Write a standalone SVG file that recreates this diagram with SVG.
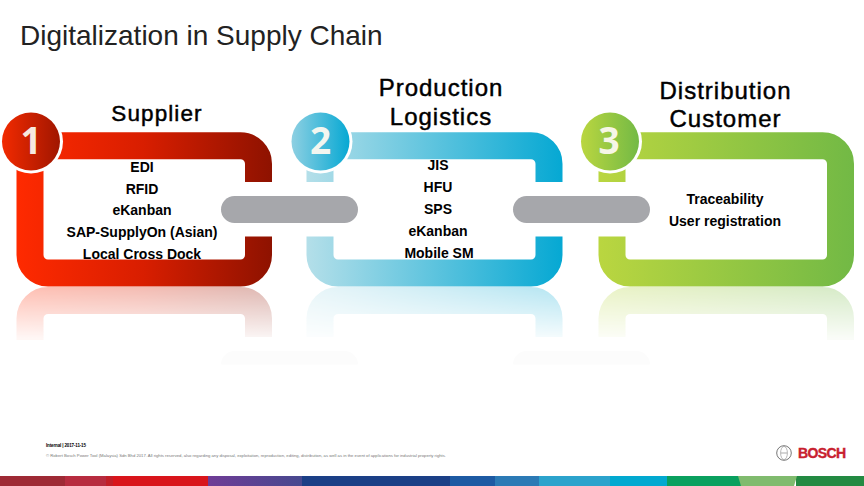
<svg xmlns="http://www.w3.org/2000/svg" width="864" height="486" viewBox="0 0 864 486">
<style>
text{font-family:"Liberation Sans",Arial,sans-serif;fill:#000}
.h{font-size:24px;text-anchor:middle;stroke:#000;stroke-width:.45;letter-spacing:1px}
.s{font-size:14px;font-weight:700;text-anchor:middle}
.n{font-family:"Open Sans","Liberation Sans",sans-serif;font-size:37px;font-weight:700;text-anchor:middle}
.f{fill:none;stroke-width:27}
.p{fill:#a6a7ab}
</style>
<defs>
<linearGradient id="r" gradientUnits="userSpaceOnUse" x1="16" x2="272" y1="0" y2="0"><stop offset="0" stop-color="#ff2a00"/><stop offset=".5" stop-color="#d81e00"/><stop offset="1" stop-color="#8e1200"/></linearGradient>
<linearGradient id="b" gradientUnits="userSpaceOnUse" x1="307" x2="563" y1="0" y2="0"><stop offset="0" stop-color="#b4dfe9"/><stop offset="1" stop-color="#05a8d3"/></linearGradient>
<linearGradient id="g" gradientUnits="userSpaceOnUse" x1="598" x2="854" y1="0" y2="0"><stop offset="0" stop-color="#bad640"/><stop offset="1" stop-color="#72b945"/></linearGradient>
<linearGradient id="rc" gradientUnits="userSpaceOnUse" x1="2" x2="60" y1="0" y2="0"><stop offset="0" stop-color="#f22a00"/><stop offset="1" stop-color="#a01600"/></linearGradient>
<linearGradient id="bc" gradientUnits="userSpaceOnUse" x1="291" x2="350" y1="0" y2="0"><stop offset="0" stop-color="#8fd0e2"/><stop offset="1" stop-color="#05a8d3"/></linearGradient>
<linearGradient id="gc" gradientUnits="userSpaceOnUse" x1="581" x2="640" y1="0" y2="0"><stop offset="0" stop-color="#bad640"/><stop offset="1" stop-color="#72b945"/></linearGradient>
<linearGradient id="pur" x1="0" x2="1" y1="0" y2="0"><stop offset="0" stop-color="#6f3c96"/><stop offset="1" stop-color="#47498f"/></linearGradient>
<linearGradient id="fade" gradientUnits="userSpaceOnUse" x1="0" x2="0" y1="287" y2="338"><stop offset="0" stop-color="#fff" stop-opacity=".3"/><stop offset="1" stop-color="#fff" stop-opacity=".04"/></linearGradient>
<mask id="m" maskUnits="userSpaceOnUse" x="0" y="285" width="864" height="55"><rect x="0" y="285" width="864" height="55" fill="url(#fade)"/></mask>
<path id="fr" class="f" d="M258.5 182V163.75A18 18 0 0 0 240.5 145.75H48A18 18 0 0 0 30 163.75V255A18 18 0 0 0 48 273H240.5A18 18 0 0 0 258.5 255V236.5"/>
<path id="fb" class="f" d="M320 182V163.75A18 18 0 0 1 338 145.75H531A18 18 0 0 1 549 163.75V182M320 236.5V255A18 18 0 0 0 338 273H531A18 18 0 0 0 549 255V236.5"/>
<path id="fg" class="f" d="M612 182V163.75A18 18 0 0 1 630 145.75H822.5A18 18 0 0 1 840.5 163.75V255A18 18 0 0 1 822.5 273H630A18 18 0 0 1 612 255V236.5"/>
</defs>
<rect width="864" height="486" fill="#fff"/>
<text x="20" y="45" font-size="28" style="fill:#222">Digitalization in Supply Chain</text>

<g id="reflections" mask="url(#m)">
<g transform="translate(0,573.5) scale(1,-1)">
<use href="#fr" stroke="url(#r)"/><use href="#fb" stroke="url(#b)"/><use href="#fg" stroke="url(#g)"/>
</g>
</g>
<g id="pill-reflections" opacity=".04">
<path class="p" d="M221 364.5a13.5 13.5 0 0 1 13.5-13.5H344.5a13.5 13.5 0 0 1 13.5 13.5Z"/>
<path class="p" d="M513 364.5a13.5 13.5 0 0 1 13.5-13.5H636.5a13.5 13.5 0 0 1 13.5 13.5Z"/>
</g>

<g id="supplier">
<use href="#fr" stroke="url(#r)"/>
<circle cx="31" cy="141.5" r="32" fill="#fff"/>
<circle cx="31" cy="141.5" r="29" fill="url(#rc)"/>
<text class="n" x="31" y="154" style="fill:#f6e9df">1</text>
<text class="h" x="157" y="121" style="font-size:22.5px;letter-spacing:1.1px">Supplier</text>
<text class="s" x="142" y="172">EDI</text>
<text class="s" x="142" y="194">RFID</text>
<text class="s" x="142" y="215">eKanban</text>
<text class="s" x="142" y="237">SAP-SupplyOn (Asian)</text>
<text class="s" x="142" y="259">Local Cross Dock</text>
</g>

<g id="production-logistics">
<use href="#fb" stroke="url(#b)"/>
<circle cx="320.5" cy="141.5" r="32" fill="#fff"/>
<circle cx="320.5" cy="141.5" r="29" fill="url(#bc)"/>
<text class="n" x="320.5" y="154" style="fill:#f2f6f0">2</text>
<text class="h" x="441" y="96">Production</text>
<text class="h" x="441" y="125">Logistics</text>
<text class="s" x="438" y="170">JIS</text>
<text class="s" x="438" y="192">HFU</text>
<text class="s" x="438" y="214">SPS</text>
<text class="s" x="438" y="236">eKanban</text>
<text class="s" x="439" y="258">Mobile SM</text>
</g>

<g id="distribution-customer">
<use href="#fg" stroke="url(#g)"/>
<circle cx="610" cy="141.5" r="32" fill="#fff"/>
<circle cx="610" cy="141.5" r="29" fill="url(#gc)"/>
<text class="n" x="609" y="154" style="fill:#f6f6e6">3</text>
<text class="h" x="725.5" y="99">Distribution</text>
<text class="h" x="725.5" y="127">Customer</text>
<text class="s" x="725" y="204">Traceability</text>
<text class="s" x="725" y="226">User registration</text>
</g>

<g id="connectors">
<rect class="p" x="221" y="196" width="137" height="27" rx="13.5"/>
<rect class="p" x="513" y="196" width="137" height="27" rx="13.5"/>
</g>

<g id="footer">
<text x="46" y="447" font-size="4.5" font-weight="700" textLength="40">Internal | 2017-11-15</text>
<text x="46" y="457" font-size="4.4" style="fill:#777" textLength="400" lengthAdjust="spacingAndGlyphs">© Robert Bosch Power Tool (Malaysia) Sdn Bhd 2017. All rights reserved, also regarding any disposal, exploitation, reproduction, editing, distribution, as well as in the event of applications for industrial property rights.</text>
</g>

<g id="bosch-logo">
<circle cx="784" cy="453" r="7.3" fill="none" stroke="#777" stroke-width="1"/>
<ellipse cx="784" cy="453" rx="3.4" ry="6.6" fill="none" stroke="#999" stroke-width=".7"/>
<path d="M781 453H787" stroke="#888" stroke-width=".7"/>
<text x="798" y="458" font-size="14" font-weight="700" style="fill:#c8202e;stroke:#c8202e;stroke-width:.4" textLength="48">BOSCH</text>
</g>

<g id="color-bar">
<rect x="0" y="476" width="65" height="10" fill="#9e2a35"/>
<rect x="65" y="476" width="41" height="10" fill="#b72c3f"/>
<rect x="106" y="476" width="8" height="10" fill="#c21f28"/>
<rect x="113" y="476" width="95" height="10" fill="#d9151b"/>
<rect x="208" y="476" width="94" height="10" fill="url(#pur)"/>
<rect x="302" y="476" width="148" height="10" fill="#1b3f86"/>
<rect x="450" y="476" width="45" height="10" fill="#1d5aa3"/>
<rect x="495" y="476" width="44" height="10" fill="#2b7ab5"/>
<rect x="539" y="476" width="71" height="10" fill="#2ca3cc"/>
<rect x="610" y="476" width="57" height="10" fill="#02a9d0"/>
<rect x="667" y="476" width="75" height="10" fill="#0aa05f"/>
<rect x="796" y="476" width="68" height="10" fill="#238a42"/>
<path d="M738 476H797L794 486H741Z" fill="#80bb6e"/>
</g>
</svg>
